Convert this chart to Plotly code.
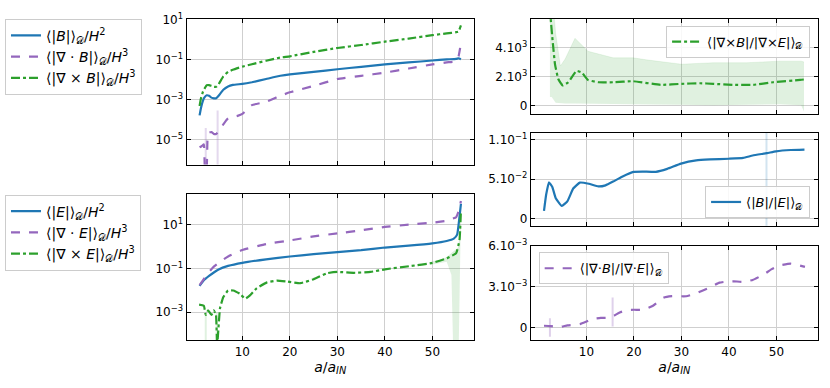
import plotly.graph_objects as go

BLUE = "#1f77b4"
PURPLE = "#9467bd"
GREEN = "#2ca02c"

# ---- top-left panel: <|B|>, <|div B|>, <|curl B|>
x_absB = [1.0, 1.3, 1.7, 2.0, 2.5, 3.0, 3.5, 4.0, 4.5, 5.0, 6.0, 7.0, 8.0, 10, 12, 15, 18, 20, 25, 30, 35, 40, 45, 50, 53, 55, 55.5, 56]
absB = [1.7e-4, 4e-4, 9e-4, 1.3e-3, 1.7e-3, 1.6e-3, 1.3e-3, 1.2e-3, 1.2e-3, 1.6e-3, 3.2e-3, 4.7e-3, 5.6e-3, 6.3e-3, 7.6e-3,
        1.1e-2, 1.6e-2, 1.9e-2, 2.5e-2, 3.4e-2, 4.5e-2, 5.9e-2, 7.4e-2, 9.3e-2, 0.105, 0.112, 0.12, 0.107]

x_divB = [1.0, 1.5, 1.9, 2.2, 2.4, 2.7, 3.0, 3.5, 4.0, 4.5, 5.0, 6.0, 7.0, 8.0, 9.0, 10, 12, 15, 18, 20, 25, 30, 35, 40, 45, 50, 53, 55, 55.5, 56]
divB = [4.3e-6, 5e-6, 6e-6, 1e-7, 1e-7, 1.5e-5, 2.3e-5, 2.5e-5, 2e-5, 2e-5, 2.5e-5, 6e-5, 1.2e-4, 1.4e-4, 1.6e-4, 2e-4,
        5.5e-4, 8e-4, 1.6e-3, 2.4e-3, 5e-3, 1.1e-2, 1.6e-2, 2.3e-2, 3.7e-2, 5.9e-2, 7.5e-2, 8.5e-2, 0.15, 0.68]

x_curlB = [1.0, 1.3, 1.7, 2.0, 2.5, 3.0, 3.5, 4.0, 4.5, 5.0, 6.0, 7.0, 8.0, 10, 12, 15, 18, 20, 25, 30, 35, 40, 45, 50, 53, 55, 55.5, 56]
curlB = [5e-4, 1.2e-3, 2.5e-3, 3.5e-3, 5.4e-3, 5.5e-3, 5e-3, 4.5e-3, 4.5e-3, 6e-3, 1.5e-2, 2.5e-2, 3.2e-2, 4.6e-2, 6e-2, 9e-2,
         0.13, 0.15, 0.25, 0.39, 0.55, 0.81, 1.15, 1.7, 2.1, 2.4, 2.6, 5.2]

# faint spread spikes of <|div B|>
spike_divB_x = [2.3, 4.8]
spike_divB_lo = [1e-7, 1e-7]
spike_divB_hi = [4e-5, 3e-4]

# ---- bottom-left panel: <|E|>, <|div E|>, <|curl E|>
x_absE = [1, 2, 3, 4, 5, 7, 10, 15, 20, 25, 30, 35, 40, 45, 50, 53, 54.5, 55.2, 55.6, 56]
absE = [0.016, 0.03, 0.045, 0.065, 0.09, 0.13, 0.18, 0.26, 0.35, 0.45, 0.56, 0.68, 0.9, 1.1, 1.4, 1.8, 2.3, 3.5, 15, 90]

x_divE = [1, 2, 3, 4, 5, 7, 10, 15, 20, 25, 30, 35, 40, 45, 50, 53, 54, 55, 55.5, 56]
divE = [0.017, 0.035, 0.07, 0.12, 0.18, 0.35, 0.7, 1.3, 1.9, 2.9, 4.0, 5.5, 7.9, 10, 12.3, 15, 18, 22, 40, 120]

x_curlE = [0.9, 1.9, 2.3, 2.8, 3.5, 4.0, 4.45, 4.7, 5.3, 6.0, 7.0, 8.1, 9.5, 10.6, 11.6, 13.0, 15.2, 17.3, 19.4, 22.2,
           25.0, 27.8, 30, 33.5, 37, 40, 45.5, 50, 53.2, 55, 55.7, 56]
curlE = [2.2e-3, 1.95e-3, 7.4e-4, 1.2e-3, 7.4e-4, 1.2e-3, 7.4e-4, 3e-5, 1.5e-3, 4.9e-3, 9.8e-3, 9.8e-3, 6.9e-3, 4.1e-3,
         5.8e-3, 1.23e-2, 2.3e-2, 2.75e-2, 2.5e-2, 2.1e-2, 3.2e-2, 6e-2, 6.9e-2, 6.3e-2, 6.9e-2, 9.1e-2, 0.129, 0.178,
         0.3, 0.5, 2.0, 44]

# spread of <|curl E|> near the end
band_curlE_x = [50, 52, 53, 54, 54.4, 55.5, 55.8, 56]
band_curlE_lo = [0.15, 0.18, 0.2, 0.05, 1e-5, 1e-5, 0.3, 30]
band_curlE_hi = [0.2, 0.25, 0.32, 0.5, 0.6, 0.9, 4, 60]
spike_curlE_x = [2.3, 4.6]
spike_curlE_lo = [1e-5, 1e-5]
spike_curlE_hi = [1e-3, 1e-3]

# ---- right top: <|curl B|/|curl E|>
x_rcurl = [2.0, 2.46, 2.88, 3.37, 4.06, 4.98, 6.17, 7.9, 9.0, 10.3, 12.5, 15.6, 19.8, 25.7, 30, 33.9, 36.7, 40.9, 45.1, 49.3, 55, 56]
rcurl = [8000, 5970, 4410, 2840, 1830, 1390, 1610, 2395, 2280, 1770, 1610, 1610, 1680, 1430, 1500, 1540, 1500, 1430, 1430, 1610, 1770, 1810]
band_rcurl_x = [2.3, 2.67, 3.5, 4.5, 5.5, 7.58, 10.3, 15.6, 19.8, 22.6, 30, 36.7, 43.7, 50.7, 55.2, 55.8]
band_rcurl_hi = [8000, 8000, 5000, 2730, 3200, 4630, 3740, 3290, 3290, 3150, 2850, 2950, 2950, 3060, 3060, 3000]
band_rcurl_lo = [600, 600, 200, 150, 150, 150, 150, 120, 90, 90, 60, 30, 40, 90, 30, -400]

# ---- right middle: <|B|/|E|>
x_rBE = [1.05, 1.5, 2.1, 2.8, 3.5, 4.8, 6.0, 7.2, 8.6, 10.5, 12.5, 14, 15.6, 17.5, 19.9, 22, 24.6, 27, 29.9, 33.1,
         36, 40, 43, 45, 48, 49.9, 53, 55.9]
rBE = [0.0095, 0.03, 0.046, 0.04, 0.026, 0.0157, 0.022, 0.038, 0.0455, 0.044, 0.0406, 0.042, 0.0468, 0.053, 0.0592,
       0.0595, 0.0592, 0.063, 0.0697, 0.0738, 0.075, 0.0759, 0.077, 0.08, 0.083, 0.0853, 0.087, 0.0875]
spike_rBE_x = [47.9]
spike_rBE_lo = [-0.02]
spike_rBE_hi = [0.12]

# ---- right bottom: <|div B|/|div E|>
x_rdiv = [1.05, 2.5, 4.3, 6, 8.6, 11.4, 13, 15, 17, 18.5, 20, 22, 24, 26.2, 28, 31, 33, 36, 38, 39.6, 41, 43, 45,
          47.3, 49, 50.8, 53, 54.5, 56]
rdiv = [0.00012, 0.0001, 0.00002, 0.00015, 0.00024, 0.00063, 0.0007, 0.00072, 0.0011, 0.00127, 0.0013, 0.0013, 0.0016,
        0.00218, 0.0023, 0.0023, 0.0025, 0.00295, 0.0033, 0.00338, 0.0034, 0.00336, 0.0035, 0.0039, 0.0043, 0.00458,
        0.0047, 0.0046, 0.00446]
spike_rdiv_x = [2.3, 15.5]
spike_rdiv_lo = [-0.0007, 0.00007]
spike_rdiv_hi = [0.00067, 0.0022]

x_ticks = [10, 20, 30, 40, 50]
D = "𝒟"

fig = go.Figure()


def curve(x, y, ax, color, dash, name, leg):
    fig.add_trace(go.Scatter(
        x=x, y=y, xaxis="x" + ax, yaxis="y" + ax, mode="lines", name=name, legend=leg, legendgroup=name,
        line=dict(color=color, width=2.2, dash=dash, shape="spline", smoothing=0.35)))


def spikes(xs, lo, hi, ax, color):
    for xv, a, b in zip(xs, lo, hi):
        fig.add_trace(go.Scatter(x=[xv, xv], y=[a, b], xaxis="x" + ax, yaxis="y" + ax, mode="lines",
                                 showlegend=False, hoverinfo="skip", line=dict(color=color, width=2)))


def band(x, lo, hi, ax, color):
    fig.add_trace(go.Scatter(x=x, y=lo, xaxis="x" + ax, yaxis="y" + ax, mode="lines", showlegend=False,
                             hoverinfo="skip", line=dict(width=0, color=color)))
    fig.add_trace(go.Scatter(x=x, y=hi, xaxis="x" + ax, yaxis="y" + ax, mode="lines", showlegend=False,
                             hoverinfo="skip", fill="tonexty", fillcolor=color, line=dict(width=0.6, color=color)))


# top-left
spikes(spike_divB_x, spike_divB_lo, spike_divB_hi, "", "rgba(148,103,189,0.25)")
curve(x_absB, absB, "", BLUE, "solid", f"⟨|<i>B</i>|⟩<sub>{D}</sub>/<i>H</i><sup>2</sup>", "legend")
curve(x_divB, divB, "", PURPLE, "dash", f"⟨|∇ · <i>B</i>|⟩<sub>{D}</sub>/<i>H</i><sup>3</sup>", "legend")
curve(x_curlB, curlB, "", GREEN, "dashdot", f"⟨|∇ × <i>B</i>|⟩<sub>{D}</sub>/<i>H</i><sup>3</sup>", "legend")

# bottom-left
band(band_curlE_x, band_curlE_lo, band_curlE_hi, "2", "rgba(44,160,44,0.15)")
spikes(spike_curlE_x, spike_curlE_lo, spike_curlE_hi, "2", "rgba(44,160,44,0.15)")
curve(x_absE, absE, "2", BLUE, "solid", f"⟨|<i>E</i>|⟩<sub>{D}</sub>/<i>H</i><sup>2</sup>", "legend2")
curve(x_divE, divE, "2", PURPLE, "dash", f"⟨|∇ · <i>E</i>|⟩<sub>{D}</sub>/<i>H</i><sup>3</sup>", "legend2")
curve(x_curlE, curlE, "2", GREEN, "dashdot", f"⟨|∇ × <i>E</i>|⟩<sub>{D}</sub>/<i>H</i><sup>3</sup>", "legend2")

# right top
band(band_rcurl_x, band_rcurl_lo, band_rcurl_hi, "3", "rgba(44,160,44,0.15)")
curve(x_rcurl, rcurl, "3", GREEN, "dashdot", f"⟨|∇×<i>B</i>|/|∇×<i>E</i>|⟩<sub>{D}</sub>", "legend3")

# right middle
spikes(spike_rBE_x, spike_rBE_lo, spike_rBE_hi, "4", "rgba(31,119,180,0.2)")
curve(x_rBE, rBE, "4", BLUE, "solid", f"⟨|<i>B</i>|/|<i>E</i>|⟩<sub>{D}</sub>", "legend4")

# right bottom
spikes(spike_rdiv_x, spike_rdiv_lo, spike_rdiv_hi, "5", "rgba(148,103,189,0.3)")
curve(x_rdiv, rdiv, "5", PURPLE, "dash", f"⟨|∇·<i>B</i>|/|∇·<i>E</i>|⟩<sub>{D}</sub>", "legend5")

axis_style = dict(showline=True, linecolor="black", linewidth=1, mirror="allticks", ticks="inside",
                  ticklen=4, tickcolor="black", showgrid=True, gridcolor="#cfcfcf", gridwidth=1,
                  zeroline=False, tickfont=dict(size=12, color="black"))
xl = [186.5 / 830, 474 / 830]
xr = [530.7 / 830, 818 / 830]
xtitle = dict(text="<i>a</i>/<i>a</i><sub><i>IN</i></sub>", font=dict(size=14), standoff=0)

legend_style = dict(bgcolor="rgba(255,255,255,0.85)", bordercolor="#cccccc", borderwidth=1,
                    font=dict(size=13, color="black"), tracegroupgap=3, traceorder="normal")
left_legend = dict(legend_style, font=dict(size=14, color="black"))

fig.update_layout(
    width=830, height=388, margin=dict(l=0, r=0, t=0, b=0),
    paper_bgcolor="white", plot_bgcolor="white",
    font=dict(family="DejaVu Sans", color="black"),
    xaxis=dict(domain=xl, anchor="y", range=[-1.75, 58.75], tickvals=x_ticks, showticklabels=False, **axis_style),
    yaxis=dict(domain=[0.5894, 0.9742], anchor="x", type="log", range=[-6.23, 1.05],
               tickvals=[1e-5, 1e-3, 1e-1, 10],
               ticktext=["10<sup>−5</sup>", "10<sup>−3</sup>", "10<sup>−1</sup>", "10<sup>1</sup>"], **axis_style),
    xaxis2=dict(domain=xl, anchor="y2", range=[-1.75, 58.75], tickvals=x_ticks, title=xtitle, **axis_style),
    yaxis2=dict(domain=[0.1263, 0.5129], anchor="x2", type="log", range=[-4.28, 2.42],
                tickvals=[1e-3, 1e-1, 10],
                ticktext=["10<sup>−3</sup>", "10<sup>−1</sup>", "10<sup>1</sup>"], **axis_style),
    xaxis3=dict(domain=xr, anchor="y3", range=[-1.75, 58.75], tickvals=x_ticks, showticklabels=False, **axis_style),
    yaxis3=dict(domain=[0.7242, 0.9742], anchor="x3", range=[-540, 5970], tickvals=[0, 2000, 4000],
                ticktext=["0", "2.10<sup>3</sup>", "4.10<sup>3</sup>"], **axis_style),
    xaxis4=dict(domain=xr, anchor="y4", range=[-1.75, 58.75], tickvals=x_ticks, showticklabels=False, **axis_style),
    yaxis4=dict(domain=[0.4278, 0.6735], anchor="x4", range=[-0.0096, 0.109], tickvals=[0, 0.05, 0.1],
                ticktext=["0", "5.10<sup>−2</sup>", "1.10<sup>−1</sup>"], **axis_style),
    xaxis5=dict(domain=xr, anchor="y5", range=[-1.75, 58.75], tickvals=x_ticks, title=xtitle, **axis_style),
    yaxis5=dict(domain=[0.1263, 0.3745], anchor="x5", range=[-0.00094, 0.006], tickvals=[0, 0.003, 0.006],
                ticktext=["0", "3.10<sup>−3</sup>", "6.10<sup>−3</sup>"], **axis_style),
    legend=dict(x=0.006, y=0.974, xanchor="left", yanchor="top", **left_legend),
    legend2=dict(x=0.006, y=0.5103, xanchor="left", yanchor="top", **left_legend),
    legend3=dict(x=0.976, y=0.956, xanchor="right", yanchor="top", **legend_style),
    legend4=dict(x=0.976, y=0.4485, xanchor="right", yanchor="bottom", **legend_style),
    legend5=dict(x=0.649, y=0.358, xanchor="left", yanchor="top", **legend_style),
)

# page body has a default 8px margin; drop it so the figure sits at the window origin
fig.write_html("out.html", config={"displayModeBar": False},
               post_script="document.body.style.margin='0';")
